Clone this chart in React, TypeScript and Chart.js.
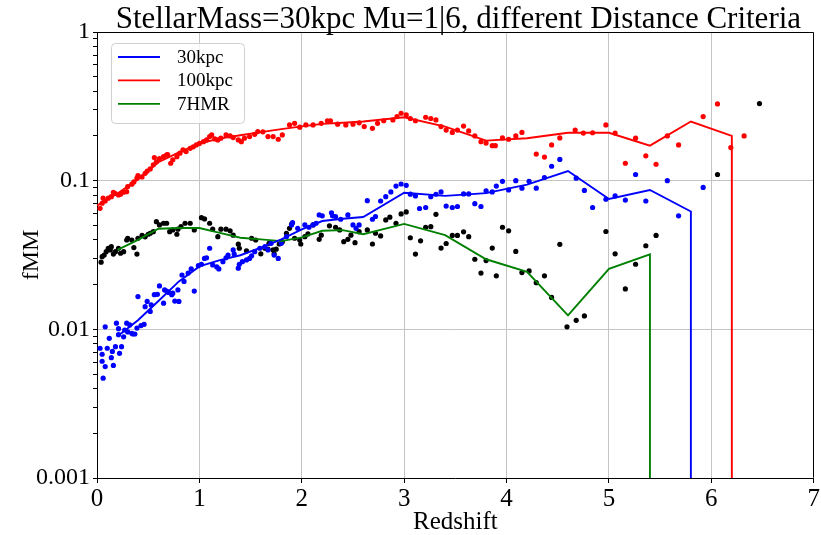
import React, { useEffect, useRef } from 'react';
import { Chart, registerables } from 'chart.js';

Chart.register(...registerables);

// ---- text ----
const TITLE = 'StellarMass=30kpc Mu=1|6, different Distance Criteria';
const X_LABEL = 'Redshift';
const Y_LABEL = 'fMM';
const SERIES_NAMES = ['30kpc', '100kpc', '7HMR'];
const X_TICKS = [0, 1, 2, 3, 4, 5, 6, 7];
const X_TICK_LABELS = ['0', '1', '2', '3', '4', '5', '6', '7'];
const Y_DECADES = [0.001, 0.01, 0.1, 1];
const Y_TICK_LABELS = ['0.001', '0.01', '0.1', '1'];

// an empty bin: on the log axis the curve falls straight off the bottom
const EMPTY_BIN = 1e-6;

// ---- binned merger fractions (lines) ----
const line30Z = [0.2, 0.4, 0.6, 0.8, 1.0, 1.2, 1.4, 1.6, 1.8, 2.0, 2.2, 2.4, 2.6, 3.0, 3.4, 3.8, 4.2, 4.6, 5.0, 5.4, 5.8, 5.8];
const line30F = [0.009, 0.0115, 0.0155, 0.021, 0.0265, 0.0292, 0.0315, 0.0355, 0.0403, 0.047, 0.0535, 0.0555, 0.057, 0.083, 0.079, 0.0825, 0.094, 0.116, 0.0753, 0.0865, 0.062, EMPTY_BIN];

const line100Z = [0.0, 0.2, 0.4, 0.6, 0.8, 1.0, 1.2, 1.4, 1.6, 1.8, 2.0, 2.2, 2.4, 2.6, 3.0, 3.4, 3.8, 4.2, 4.6, 5.0, 5.4, 5.8, 6.2, 6.2];
const line100F = [0.068, 0.082, 0.102, 0.133, 0.155, 0.178, 0.192, 0.202, 0.212, 0.222, 0.232, 0.241, 0.245, 0.25, 0.267, 0.231, 0.186, 0.193, 0.21, 0.21, 0.172, 0.25, 0.2, EMPTY_BIN];

const lineHMRZ = [0.2, 0.4, 0.6, 0.8, 1.0, 1.2, 1.4, 1.6, 1.8, 2.0, 2.2, 2.4, 2.6, 3.0, 3.4, 3.8, 4.2, 4.6, 5.0, 5.4, 5.4];
const lineHMRF = [0.0342, 0.04, 0.0475, 0.048, 0.048, 0.0445, 0.0413, 0.0403, 0.0392, 0.0415, 0.046, 0.0465, 0.0436, 0.0512, 0.043, 0.0296, 0.0244, 0.0124, 0.0255, 0.032, EMPTY_BIN];

// ---- per-snapshot fractions (dots): [redshift, fMM] ----
const dots30: [number, number][] = [
  [0.03, 0.00746], [0.05, 0.0068], [0.05, 0.0061], [0.06, 0.00469], [0.08, 0.00562], [0.08, 0.0104],
  [0.10, 0.00746], [0.12, 0.0087], [0.14, 0.00645], [0.15, 0.0071], [0.16, 0.00572], [0.18, 0.00764],
  [0.19, 0.011], [0.21, 0.0101], [0.21, 0.0092], [0.22, 0.0069], [0.24, 0.00764], [0.26, 0.0089],
  [0.27, 0.0099], [0.29, 0.011], [0.30, 0.0096], [0.32, 0.0107], [0.34, 0.0094], [0.35, 0.0093],
  [0.37, 0.0093], [0.39, 0.0102], [0.40, 0.0166], [0.43, 0.0106], [0.46, 0.0108], [0.47, 0.0142],
  [0.49, 0.0154], [0.52, 0.0132], [0.53, 0.0146], [0.56, 0.0171], [0.59, 0.0172], [0.61, 0.0196],
  [0.65, 0.015], [0.66, 0.0184], [0.68, 0.0181], [0.70, 0.0177], [0.73, 0.0171], [0.74, 0.0175],
  [0.76, 0.0155], [0.79, 0.0184], [0.80, 0.0154], [0.83, 0.0232], [0.85, 0.021], [0.89, 0.0239],
  [0.92, 0.0255], [0.95, 0.0181], [0.99, 0.0268], [1.02, 0.0274], [1.05, 0.03], [1.07, 0.0303],
  [1.10, 0.0351], [1.13, 0.0271], [1.17, 0.0263], [1.19, 0.0255], [1.23, 0.0285], [1.26, 0.0303],
  [1.28, 0.0316], [1.33, 0.0342], [1.34, 0.0321], [1.38, 0.0258], [1.39, 0.0274], [1.42, 0.0285],
  [1.46, 0.0293], [1.49, 0.03],
  [1.51, 0.0312], [1.54, 0.0333], [1.59, 0.0351], [1.64, 0.036], [1.67, 0.0342], [1.70, 0.0379],
  [1.73, 0.0316], [1.77, 0.03], [1.80, 0.0379], [1.85, 0.042], [1.90, 0.0504], [1.91, 0.0522],
  [1.96, 0.0478], [2.03, 0.0504], [2.07, 0.0486], [2.11, 0.0504], [2.14, 0.0517], [2.17, 0.0588],
  [2.20, 0.058], [2.29, 0.0608], [2.30, 0.058], [2.33, 0.0574], [2.38, 0.055], [2.45, 0.0588],
  [2.50, 0.0504], [2.53, 0.0478], [2.56, 0.0504], [2.64, 0.0734], [2.69, 0.055], [2.72, 0.0574],
  [2.77, 0.073], [2.82, 0.078], [2.87, 0.084], [2.92, 0.092], [2.97, 0.095], [3.02, 0.093],
  [3.06, 0.0811], [3.11, 0.079], [3.15, 0.065], [3.21, 0.066], [3.26, 0.078], [3.31, 0.081],
  [3.36, 0.084], [3.41, 0.0675], [3.47, 0.066], [3.52, 0.067], [3.58, 0.0814], [3.63, 0.0814],
  [3.69, 0.07], [3.75, 0.067], [3.80, 0.0855], [3.86, 0.084], [3.90, 0.092], [3.96, 0.099],
  [4.02, 0.0866], [4.09, 0.1], [4.15, 0.089], [4.22, 0.099], [4.29, 0.089], [4.37, 0.105],
  [4.44, 0.125], [4.52, 0.139], [4.68, 0.104], [4.76, 0.086], [4.84, 0.066], [4.97, 0.075],
  [5.06, 0.079], [5.16, 0.074], [5.26, 0.11], [5.36, 0.073], [5.57, 0.1], [5.68, 0.058], [5.92, 0.09],
];

const dots100: [number, number][] = [
  [0.03, 0.0652], [0.05, 0.0705], [0.06, 0.0762], [0.08, 0.0731], [0.11, 0.0762], [0.14, 0.0781],
  [0.16, 0.0836], [0.18, 0.082], [0.21, 0.0801], [0.23, 0.081], [0.26, 0.0836], [0.29, 0.0843],
  [0.30, 0.0912], [0.34, 0.0947], [0.36, 0.098], [0.39, 0.104], [0.40, 0.108], [0.44, 0.106],
  [0.47, 0.112], [0.49, 0.116], [0.52, 0.12], [0.55, 0.128], [0.56, 0.143], [0.58, 0.134],
  [0.61, 0.141], [0.65, 0.145], [0.68, 0.149], [0.69, 0.15], [0.72, 0.131], [0.74, 0.138],
  [0.78, 0.145], [0.81, 0.153], [0.84, 0.161], [0.87, 0.157], [0.91, 0.165], [0.94, 0.169],
  [0.97, 0.174], [1.00, 0.178], [1.04, 0.183], [1.07, 0.188], [1.10, 0.198], [1.12, 0.203],
  [1.15, 0.191], [1.18, 0.188], [1.21, 0.193], [1.26, 0.203], [1.30, 0.2], [1.33, 0.195],
  [1.38, 0.188], [1.41, 0.183], [1.44, 0.193], [1.49, 0.198], [1.54, 0.205], [1.57, 0.214],
  [1.62, 0.213], [1.67, 0.198], [1.72, 0.198], [1.77, 0.19], [1.81, 0.203], [1.88, 0.237],
  [1.93, 0.243], [1.98, 0.229], [2.04, 0.237], [2.11, 0.237], [2.19, 0.243], [2.25, 0.253],
  [2.28, 0.253], [2.35, 0.24], [2.43, 0.237], [2.50, 0.24], [2.56, 0.245], [2.61, 0.231],
  [2.69, 0.225], [2.74, 0.243], [2.80, 0.253], [2.89, 0.256], [2.93, 0.27], [2.97, 0.284],
  [3.02, 0.277], [3.06, 0.262], [3.11, 0.253], [3.21, 0.267], [3.26, 0.262], [3.31, 0.256],
  [3.36, 0.231], [3.41, 0.219], [3.47, 0.211], [3.52, 0.219], [3.58, 0.233], [3.63, 0.216],
  [3.69, 0.2], [3.75, 0.183], [3.80, 0.179], [3.86, 0.172], [3.89, 0.172], [3.96, 0.194],
  [4.02, 0.19], [4.09, 0.2], [4.15, 0.211], [4.29, 0.151], [4.37, 0.144], [4.44, 0.174],
  [4.52, 0.194], [4.67, 0.219], [4.75, 0.209], [4.84, 0.21], [4.97, 0.237], [5.06, 0.209],
  [5.16, 0.131], [5.26, 0.193], [5.36, 0.147], [5.46, 0.129], [5.57, 0.2], [5.68, 0.174],
  [5.92, 0.27], [6.06, 0.328], [6.19, 0.167], [6.32, 0.2],
];

const dotsHMR: [number, number][] = [
  [0.04, 0.0283], [0.05, 0.0308], [0.07, 0.0316], [0.09, 0.0333], [0.11, 0.0351], [0.13, 0.0342],
  [0.14, 0.036], [0.16, 0.0321], [0.18, 0.0333], [0.21, 0.0351], [0.23, 0.0325], [0.26, 0.0333],
  [0.29, 0.0399], [0.30, 0.041], [0.34, 0.0399], [0.36, 0.0355], [0.39, 0.0321], [0.40, 0.041],
  [0.44, 0.0428], [0.47, 0.0419], [0.50, 0.0436], [0.52, 0.0443], [0.55, 0.0454], [0.58, 0.053],
  [0.61, 0.0504], [0.65, 0.0517], [0.68, 0.0517], [0.71, 0.0454], [0.74, 0.0466], [0.78, 0.0436],
  [0.79, 0.0472], [0.82, 0.049], [0.86, 0.0517], [0.91, 0.0517], [0.95, 0.0466], [1.02, 0.0564],
  [1.05, 0.0553], [1.10, 0.0517], [1.13, 0.0472], [1.18, 0.042], [1.21, 0.0472], [1.26, 0.0472],
  [1.30, 0.046], [1.33, 0.043], [1.38, 0.0374], [1.39, 0.0351], [1.46, 0.0337],
  [1.51, 0.041], [1.55, 0.0399], [1.60, 0.0322], [1.64, 0.0351], [1.67, 0.0346], [1.68, 0.0379],
  [1.72, 0.0342], [1.73, 0.0322], [1.75, 0.0346], [1.78, 0.0375], [1.81, 0.0389], [1.85, 0.0443],
  [1.88, 0.0478], [1.90, 0.051], [1.93, 0.041], [1.98, 0.0399], [1.99, 0.0375], [2.03, 0.042],
  [2.06, 0.0438], [2.11, 0.0504], [2.17, 0.0403], [2.19, 0.043], [2.27, 0.0497], [2.33, 0.0486],
  [2.37, 0.0466], [2.41, 0.0389], [2.45, 0.0403], [2.48, 0.043], [2.52, 0.0383], [2.56, 0.0454],
  [2.64, 0.0466], [2.69, 0.0375], [2.72, 0.0443], [2.77, 0.0425], [2.82, 0.0544], [2.86, 0.0568],
  [2.92, 0.0517], [2.97, 0.0597], [3.02, 0.0616], [3.06, 0.0413], [3.11, 0.0321], [3.16, 0.0394],
  [3.21, 0.0486], [3.26, 0.049], [3.31, 0.0594], [3.36, 0.0352], [3.41, 0.0378], [3.47, 0.0428],
  [3.52, 0.0428], [3.58, 0.0453], [3.63, 0.042], [3.69, 0.0296], [3.75, 0.0239], [3.80, 0.029],
  [3.86, 0.0352], [3.90, 0.0229], [3.96, 0.0486], [4.02, 0.046], [4.09, 0.0334], [4.15, 0.0241],
  [4.22, 0.0247], [4.29, 0.0206], [4.37, 0.0229], [4.44, 0.0164], [4.52, 0.0373], [4.59, 0.0104],
  [4.68, 0.0115], [4.76, 0.0123], [4.97, 0.0455], [5.06, 0.0322], [5.16, 0.0187], [5.26, 0.0274],
  [5.36, 0.0365], [5.46, 0.0428], [6.06, 0.11], [6.47, 0.33],
];

const LINE_COLORS = ['#0000ff', '#ff0000', '#008000'];
const DOT_COLORS = ['#0000ff', '#ff0000', '#000000'];
const FONT = "'Liberation Serif', 'Times New Roman', Times, serif";

// log-axis tick positions: every integer multiple inside each decade
const Y_TICKS: number[] = [];
Y_DECADES.forEach((d, i) => {
  const last = i === Y_DECADES.length - 1 ? 1 : 9;
  for (let m = 1; m <= last; m++) Y_TICKS.push(+(m * d).toPrecision(6));
});

const decadeIndex = (v: number) => Y_DECADES.findIndex((d) => Math.abs(d - v) / d < 1e-6);

const toPoints = (z: number[], f: number[]) => z.map((x, i) => ({ x, y: f[i] }));
const pairsToPoints = (p: [number, number][]) => p.map(([x, y]) => ({ x, y }));

// title centred over the plotting area
const titlePlugin = {
  id: 'axesTitle',
  afterDraw(chart: any) {
    const { ctx, chartArea } = chart;
    ctx.save();
    ctx.font = `31px ${FONT}`;
    ctx.fillStyle = '#000';
    ctx.textAlign = 'center';
    ctx.textBaseline = 'alphabetic';
    ctx.fillText(TITLE, (chartArea.left + chartArea.right) / 2 + 3, 28);
    ctx.restore();
  },
};

// box outline on the top and right sides
const framePlugin = {
  id: 'axesFrame',
  afterDatasetsDraw(chart: any) {
    const { ctx, chartArea } = chart;
    const l = Math.round(chartArea.left) + 0.5;
    const r = Math.round(chartArea.right) - 0.5;
    const t = Math.round(chartArea.top) + 0.5;
    const b = Math.round(chartArea.bottom) - 0.5;
    ctx.save();
    ctx.strokeStyle = '#000';
    ctx.lineWidth = 1;
    ctx.beginPath();
    ctx.moveTo(l, t);
    ctx.lineTo(r, t);
    ctx.lineTo(r, b);
    ctx.stroke();
    ctx.restore();
  },
};

// legend box in the upper-left corner of the plot
const legendBoxPlugin = {
  id: 'legendBox',
  afterDraw(chart: any) {
    const { ctx, chartArea } = chart;
    const x0 = chartArea.left + 14;
    const y0 = chartArea.top + 11;
    const w = 133;
    const h = 80;
    ctx.save();
    ctx.fillStyle = 'rgba(255,255,255,0.8)';
    ctx.strokeStyle = '#d0d0d0';
    ctx.lineWidth = 1;
    ctx.beginPath();
    ctx.roundRect(x0 + 0.5, y0 + 0.5, w, h, 4);
    ctx.fill();
    ctx.stroke();
    ctx.font = `19px ${FONT}`;
    ctx.textBaseline = 'middle';
    ctx.textAlign = 'left';
    SERIES_NAMES.forEach((name, i) => {
      const y = y0 + 14 + i * 23.4;
      ctx.strokeStyle = LINE_COLORS[i];
      ctx.lineWidth = 1.8;
      ctx.beginPath();
      ctx.moveTo(x0 + 7, y);
      ctx.lineTo(x0 + 49, y);
      ctx.stroke();
      ctx.fillStyle = '#000';
      ctx.fillText(name, x0 + 66, y + 1);
    });
    ctx.restore();
  },
};

export default function App() {
  const canvasRef = useRef<HTMLCanvasElement>(null);

  useEffect(() => {
    const lineData = [toPoints(line30Z, line30F), toPoints(line100Z, line100F), toPoints(lineHMRZ, lineHMRF)];
    const dotData = [pairsToPoints(dots30), pairsToPoints(dots100), pairsToPoints(dotsHMR)];

    const lineSets = SERIES_NAMES.map((name, i) => ({
      label: name,
      data: lineData[i],
      showLine: true,
      borderColor: LINE_COLORS[i],
      backgroundColor: LINE_COLORS[i],
      borderWidth: 1.9,
      pointRadius: 0,
      pointHoverRadius: 0,
      tension: 0,
    }));
    const dotSets = SERIES_NAMES.map((name, i) => ({
      label: name + ' snapshots',
      data: dotData[i],
      showLine: false,
      backgroundColor: DOT_COLORS[i],
      borderColor: DOT_COLORS[i],
      pointRadius: 2.6,
      pointBorderWidth: 0,
      pointHoverRadius: 0,
    }));

    const chart = new Chart(canvasRef.current as HTMLCanvasElement, {
      type: 'scatter',
      data: { datasets: [...lineSets, ...dotSets] as any },
      options: {
        responsive: false,
        animation: false,
        devicePixelRatio: 1,
        events: [],
        layout: { padding: { top: 32, right: 5, left: 0, bottom: 0 } },
        plugins: { legend: { display: false }, title: { display: false }, tooltip: { enabled: false } },
        scales: {
          x: {
            type: 'linear',
            min: 0,
            max: 7,
            afterBuildTicks: (s: any) => {
              s.ticks = X_TICKS.map((v) => ({ value: v }));
            },
            afterFit: (s: any) => {
              s.height = 57;
            },
            ticks: {
              autoSkip: false,
              maxRotation: 0,
              padding: 1,
              color: '#000',
              font: { family: FONT, size: 25 },
              callback: (_v: any, i: number) => X_TICK_LABELS[i],
            },
            grid: { color: '#c4c4c4', lineWidth: 1, tickColor: '#000', tickLength: 5 },
            border: { color: '#000', width: 1 },
            title: {
              display: true,
              text: X_LABEL,
              color: '#000',
              font: { family: FONT, size: 25, lineHeight: 1 },
              padding: { top: 0, bottom: 0 },
            },
          },
          y: {
            type: 'logarithmic',
            min: 0.001,
            max: 1,
            afterBuildTicks: (s: any) => {
              s.ticks = Y_TICKS.map((v) => ({ value: v }));
            },
            afterFit: (s: any) => {
              s.width = 97;
            },
            ticks: {
              autoSkip: false,
              padding: 3,
              color: '#000',
              font: { family: FONT, size: 24 },
              callback: (v: any) => {
                const k = decadeIndex(Number(v));
                return k >= 0 ? Y_TICK_LABELS[k] : '';
              },
            },
            grid: {
              color: (c: any) => (c.tick && decadeIndex(c.tick.value) >= 0 ? '#c4c4c4' : 'rgba(0,0,0,0)'),
              lineWidth: 1,
              tickColor: '#000',
              tickLength: 4,
            },
            border: { color: '#000', width: 1 },
            title: {
              display: true,
              text: Y_LABEL,
              color: '#000',
              font: { family: FONT, size: 24, lineHeight: 1 },
              padding: { top: 20, bottom: 0 },
            },
          },
        },
      },
      plugins: [framePlugin, legendBoxPlugin, titlePlugin],
    });
    return () => chart.destroy();
  }, []);

  return (
    <div style={{ position: 'absolute', left: 0, top: 0, width: 821, height: 535, background: '#fff' }}>
      <canvas ref={canvasRef} width={821} height={535} style={{ display: 'block' }} />
    </div>
  );
}
